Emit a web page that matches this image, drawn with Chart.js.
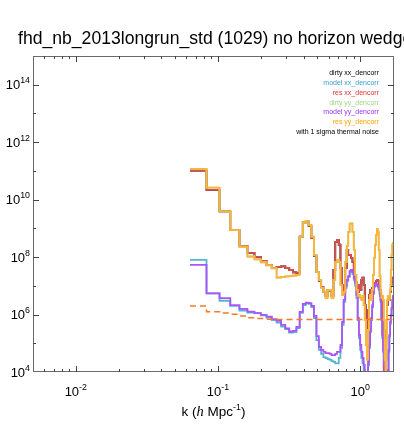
<!DOCTYPE html>
<html>
<head>
<meta charset="utf-8">
<script src="https://cdn.jsdelivr.net/npm/chart.js@4.4.0/dist/chart.umd.min.js"></script>
<style>
  html, body { margin: 0; padding: 0; background: #fff; }
  #wrap { width: 404px; height: 446px; }
</style>
</head>
<body>
<div id="wrap"><canvas id="psChart" width="404" height="446"></canvas></div>
<script>
// k bin centres (h/Mpc), linear bins
const kCenters = [
  0.0733, 0.0928, 0.1123, 0.1318, 0.1513, 0.1708, 0.1903, 0.2098, 0.2293, 0.2488,
  0.2683, 0.2878, 0.3073, 0.3268, 0.3463, 0.3658, 0.3853, 0.4048, 0.4243, 0.4438,
  0.4633, 0.4828, 0.5023, 0.5218, 0.5413, 0.5608, 0.5803, 0.5998, 0.6193, 0.6388,
  0.6583, 0.6778, 0.6973, 0.7168, 0.7363, 0.7558, 0.7753, 0.7948, 0.8143, 0.8338,
  0.8533, 0.8728, 0.8923, 0.9118, 0.9313, 0.9508, 0.9703, 0.9898, 1.0093, 1.0288,
  1.0483, 1.0678, 1.0873, 1.1068, 1.1263, 1.1458, 1.1653, 1.1848, 1.2043, 1.2238,
  1.2433, 1.2628, 1.2823, 1.3018, 1.3213, 1.3408, 1.3603, 1.3798, 1.3993, 1.4188,
  1.4383, 1.4578, 1.4773, 1.4968, 1.5163, 1.5358, 1.5553, 1.5748, 1.5943, 1.6138,
  1.6333, 1.6528, 1.6723, 1.6918, 1.7113, 1.7308
];
const binWidth = 0.0195;

// log10 of power
const resXXLog = [
  11.01, 10.34, 9.59, 8.94, 8.39, 8.15, 8.01, 7.87, 7.73, 7.62,
  7.66, 7.68, 7.62, 7.55, 7.47, 7.45, 8.71, 9.21, 9.24, 9.09,
  8.67, 8.04, 7.48, 7.17, 6.96, 6.79, 6.65, 6.86, 6.82, 6.65,
  7.55, 8.53, 8.60, 8.43, 7.62, 7.03, 6.79, 7.62, 8.25, 8.08,
  8.08, 7.97, 7.83, 7.48, 7.14, 6.93, 6.79, 7.03, 6.86, 7.21,
  7.28, 7.03, 6.33, 5.29, 5.11, 6.16, 6.68, 6.86, 6.79, 6.93,
  6.86, 7.03, 7.10, 7.17, 7.21, 7.17, 7.03, 6.86, 6.65, 6.51,
  6.16, 5.46, 4.07, 3.90, 4.42, 5.46, 6.33, 6.51, 6.65, 6.51,
  6.79, 7.03, 7.21, 7.14, 7.28, 7.21
];
const resYYLog = [
  11.07, 10.42, 9.59, 8.94, 8.36, 8.02, 7.92, 7.82, 7.71, 7.61,
  7.29, 7.31, 7.33, 7.34, 7.36, 7.38, 8.71, 9.21, 9.26, 9.12,
  8.71, 8.08, 7.48, 7.21, 6.93, 6.80, 6.58, 6.86, 6.86, 6.58,
  7.21, 7.83, 7.90, 7.83, 7.03, 6.68, 6.79, 7.83, 8.39, 8.88,
  9.16, 9.17, 8.88, 8.25, 7.38, 6.86, 6.65, 6.68, 6.58, 6.51,
  6.65, 6.33, 5.81, 4.94, 4.42, 5.46, 6.51, 6.68, 6.51, 6.86,
  7.38, 7.97, 8.43, 8.77, 8.98, 8.88, 8.25, 7.34, 6.79, 6.58,
  6.65, 6.51, 5.81, 4.42, 3.90, 5.11, 6.51, 6.65, 6.51, 6.58,
  6.86, 7.55, 8.08, 8.43, 8.49, 8.32
];
const modelXXLog = [
  7.90, 6.74, 6.48, 6.30, 6.14, 6.07, 6.05, 5.97, 5.89, 5.81,
  5.72, 5.58, 5.49, 5.37, 5.39, 5.53, 6.06, 6.33, 6.40, 6.37,
  6.26, 5.88, 5.11, 4.77, 4.63, 4.52, 4.48, 4.45, 4.42, 4.38,
  4.35, 4.30, 4.30, 4.49, 4.84, 5.64, 6.44, 6.93, 7.17, 7.31,
  7.48, 7.52, 7.41, 7.21, 7.00, 6.58, 5.81, 5.18, 4.77, 4.49,
  4.31, 4.07, 3.72, 3.55, 3.72, 4.24, 4.84, 5.39, 5.81, 6.26,
  6.72, 6.96, 7.03, 7.03, 7.00, 6.96, 6.86, 6.72, 6.44, 5.81,
  5.18, 4.70, 4.14, 3.65, 3.44, 3.44, 3.65, 4.00, 4.70, 5.22,
  5.67, 5.95, 6.20, 6.44, 6.61, 6.61
];
const modelYYLog = [
  7.73, 6.74, 6.57, 6.33, 6.20, 6.10, 6.05, 5.99, 5.93, 5.84,
  5.78, 5.64, 5.52, 5.41, 5.43, 5.57, 6.09, 6.37, 6.41, 6.40,
  6.30, 5.95, 5.25, 4.87, 4.77, 4.70, 4.66, 4.66, 4.63, 4.59,
  4.59, 4.63, 4.70, 4.70, 4.94, 5.74, 6.51, 7.00, 7.21, 7.34,
  7.52, 7.55, 7.48, 7.28, 7.10, 6.68, 5.88, 5.29, 4.94, 4.70,
  4.49, 4.24, 3.90, 3.72, 3.90, 4.35, 4.94, 5.46, 5.88, 6.33,
  6.79, 7.00, 7.07, 7.07, 7.03, 7.00, 6.93, 6.79, 6.51, 5.88,
  5.29, 4.77, 4.24, 3.72, 3.55, 3.55, 3.72, 4.07, 4.77, 5.29,
  5.74, 5.99, 6.23, 6.51, 6.65, 6.65
];
// dirty curves sit right under the residuals at this scale
const dirtyXXLog = resXXLog;
const dirtyYYLog = resYYLog;
const noiseLog = [
  6.30, 6.10, 6.05, 6.01, 5.95, 5.89, 5.86, 5.86, 5.84, 5.84,
  5.83, 5.83, 5.83, 5.83, 5.83, 5.83, 5.83, 5.83, 5.83, 5.83,
  5.83, 5.83, 5.83, 5.83, 5.83, 5.83, 5.83, 5.83, 5.83, 5.83,
  5.83, 5.83, 5.83, 5.83, 5.83, 5.83, 5.83, 5.83, 5.83, 5.83,
  5.83, 5.83, 5.83, 5.83, 5.83, 5.83, 5.83, 5.83, 5.83, 5.83,
  5.83, 5.83, 5.83, 5.83, 5.83, 5.83, 5.83, 5.83, 5.83, 5.83,
  5.83, 5.83, 5.83, 5.83, 5.83, 5.83, 5.83, 5.83, 5.83, 5.83,
  5.83, 5.83, 5.83, 5.83, 5.83, 5.83, 5.83, 5.83, 5.83, 5.83,
  5.83, 5.83, 5.83, 5.83, 5.83, 5.83
];

const yTickExps = [4, 6, 8, 10, 12, 14];
const xTickExps = [-2, -1, 0];

const titleText = 'fhd_nb_2013longrun_std (1029) no horizon wedge';
const legendItems = [
  ['dirty xx_dencorr', '#000000'],
  ['model xx_dencorr', '#3a9fc8'],
  ['res xx_dencorr', '#e03232'],
  ['dirty yy_dencorr', '#9ed68a'],
  ['model yy_dencorr', '#9a32f5'],
  ['res yy_dencorr', '#ffa200'],
  ['with 1 sigma thermal noise', '#000000']
];

function stepPoints(logVals) {
  const pts = logVals.map((v, i) => ({ x: kCenters[i] - binWidth / 2, y: Math.pow(10, v) }));
  const last = kCenters.length - 1;
  pts.push({ x: kCenters[last] + binWidth / 2, y: Math.pow(10, logVals[last]) });
  return pts;
}

function line(label, vals, color, order, extra) {
  return Object.assign({
    label: label,
    data: stepPoints(vals),
    borderColor: color,
    borderWidth: 1.8,
    stepped: 'before',
    pointRadius: 0,
    fill: false,
    order: order
  }, extra || {});
}

function drawPow(ctx, base, exp, x, y, align, size) {
  const supSize = size * 0.68;
  ctx.font = size + 'px "Liberation Sans", Arial, sans-serif';
  const wb = ctx.measureText(base).width;
  ctx.font = supSize + 'px "Liberation Sans", Arial, sans-serif';
  const we = ctx.measureText(exp).width;
  let left = x;
  if (align === 'right') left = x - wb - we;
  if (align === 'center') left = x - (wb + we) / 2;
  ctx.textAlign = 'left';
  ctx.textBaseline = 'alphabetic';
  ctx.font = size + 'px "Liberation Sans", Arial, sans-serif';
  ctx.fillText(base, left, y);
  ctx.font = supSize + 'px "Liberation Sans", Arial, sans-serif';
  ctx.fillText(exp, left + wb, y - size * 0.45);
}

const idlFrame = {
  id: 'idlFrame',
  afterDraw(chart) {
    const ctx = chart.ctx;
    const a = chart.chartArea;
    const xs = chart.scales.x;
    const ys = chart.scales.y;
    ctx.save();

    // frame
    ctx.strokeStyle = '#6a6a6a';
    ctx.lineWidth = 1;
    ctx.strokeRect(Math.round(a.left) + 0.5, Math.round(a.top) + 0.5,
      Math.round(a.right - a.left) - 1, Math.round(a.bottom - a.top) - 1);

    // ticks
    ctx.strokeStyle = '#444';
    ctx.beginPath();
    for (let d = -3; d <= 0; d++) {
      for (let m = 1; m <= 9; m++) {
        const v = m * Math.pow(10, d);
        if (v <= xs.min || v >= xs.max) continue;
        const px = Math.round(xs.getPixelForValue(v)) + 0.5;
        const len = m === 1 ? 6 : 3;
        ctx.moveTo(px, a.bottom); ctx.lineTo(px, a.bottom - len);
        ctx.moveTo(px, a.top); ctx.lineTo(px, a.top + len);
      }
    }
    for (let e = 5; e <= 14; e++) {
      const py = Math.round(ys.getPixelForValue(Math.pow(10, e))) + 0.5;
      const len = e % 2 === 0 ? 6 : 3;
      ctx.moveTo(a.left, py); ctx.lineTo(a.left + len, py);
      ctx.moveTo(a.right, py); ctx.lineTo(a.right - len, py);
    }
    ctx.stroke();

    // tick labels
    ctx.fillStyle = '#000';
    yTickExps.forEach(e => {
      const py = ys.getPixelForValue(Math.pow(10, e));
      drawPow(ctx, '10', String(e), a.left - 3, py + 4.5, 'right', 13);
    });
    xTickExps.forEach(e => {
      const px = xs.getPixelForValue(Math.pow(10, e));
      drawPow(ctx, '10', String(e), px, a.bottom + 24, 'center', 13);
    });

    // x axis title: k (h Mpc^-1)
    const tSize = 13.5;
    const fN = tSize + 'px "Liberation Sans", Arial, sans-serif';
    const fI = 'italic ' + (tSize + 1) + 'px "Liberation Serif", "Times New Roman", serif';
    const fS = (tSize * 0.65) + 'px "Liberation Sans", Arial, sans-serif';
    const parts = [['k (', fN, 0], ['h', fI, 0], [' Mpc', fN, 0], ['-1', fS, -6], [')', fN, 0]];
    let total = 0;
    parts.forEach(p => { ctx.font = p[1]; total += ctx.measureText(p[0]).width; });
    let cx = (a.left + a.right) / 2 - total / 2;
    ctx.textAlign = 'left';
    ctx.textBaseline = 'alphabetic';
    parts.forEach(p => {
      ctx.font = p[1];
      ctx.fillText(p[0], cx, 416 + p[2]);
      cx += ctx.measureText(p[0]).width;
    });

    // legend text
    ctx.font = '7px "Liberation Sans", Arial, sans-serif';
    ctx.textAlign = 'right';
    ctx.textBaseline = 'middle';
    legendItems.forEach((it, i) => {
      ctx.fillStyle = it[1];
      ctx.fillText(it[0], a.right - 15, 73.5 + i * 9.73);
    });

    // title
    ctx.fillStyle = '#000';
    ctx.font = '17.6px "Liberation Sans", Arial, sans-serif';
    ctx.textAlign = 'left';
    ctx.textBaseline = 'alphabetic';
    ctx.fillText(titleText, 18, 44);

    ctx.restore();
  }
};

const ctx = document.getElementById('psChart').getContext('2d');
new Chart(ctx, {
  type: 'line',
  data: {
    datasets: [
      line('dirty xx_dencorr', dirtyXXLog, '#000000', 6),
      line('model xx_dencorr', modelXXLog, '#55b4d0', 5),
      line('res xx_dencorr', resXXLog, '#d85050', 4),
      line('dirty yy_dencorr', dirtyYYLog, '#a8dc94', 3),
      line('model yy_dencorr', modelYYLog, '#aa55f7', 2),
      line('res yy_dencorr', resYYLog, '#ffb338', 1),
      line('noise', noiseLog, '#f27a22', 0, { borderDash: [6, 4], borderWidth: 1.5 })
    ]
  },
  options: {
    responsive: false,
    animation: false,
    layout: { padding: { left: 0, right: 10, top: 56, bottom: 0 } },
    plugins: {
      legend: { display: false },
      title: { display: false },
      tooltip: { enabled: false }
    },
    scales: {
      x: {
        type: 'logarithmic',
        min: 0.005,
        max: 1.73,
        ticks: { display: false },
        grid: { display: false },
        border: { display: false },
        afterFit: s => { s.height = 74; }
      },
      y: {
        type: 'logarithmic',
        min: 1e4,
        max: 1e15,
        ticks: { display: false },
        grid: { display: false },
        border: { display: false },
        afterFit: s => { s.width = 33; }
      }
    }
  },
  plugins: [idlFrame]
});
</script>
</body>
</html>
